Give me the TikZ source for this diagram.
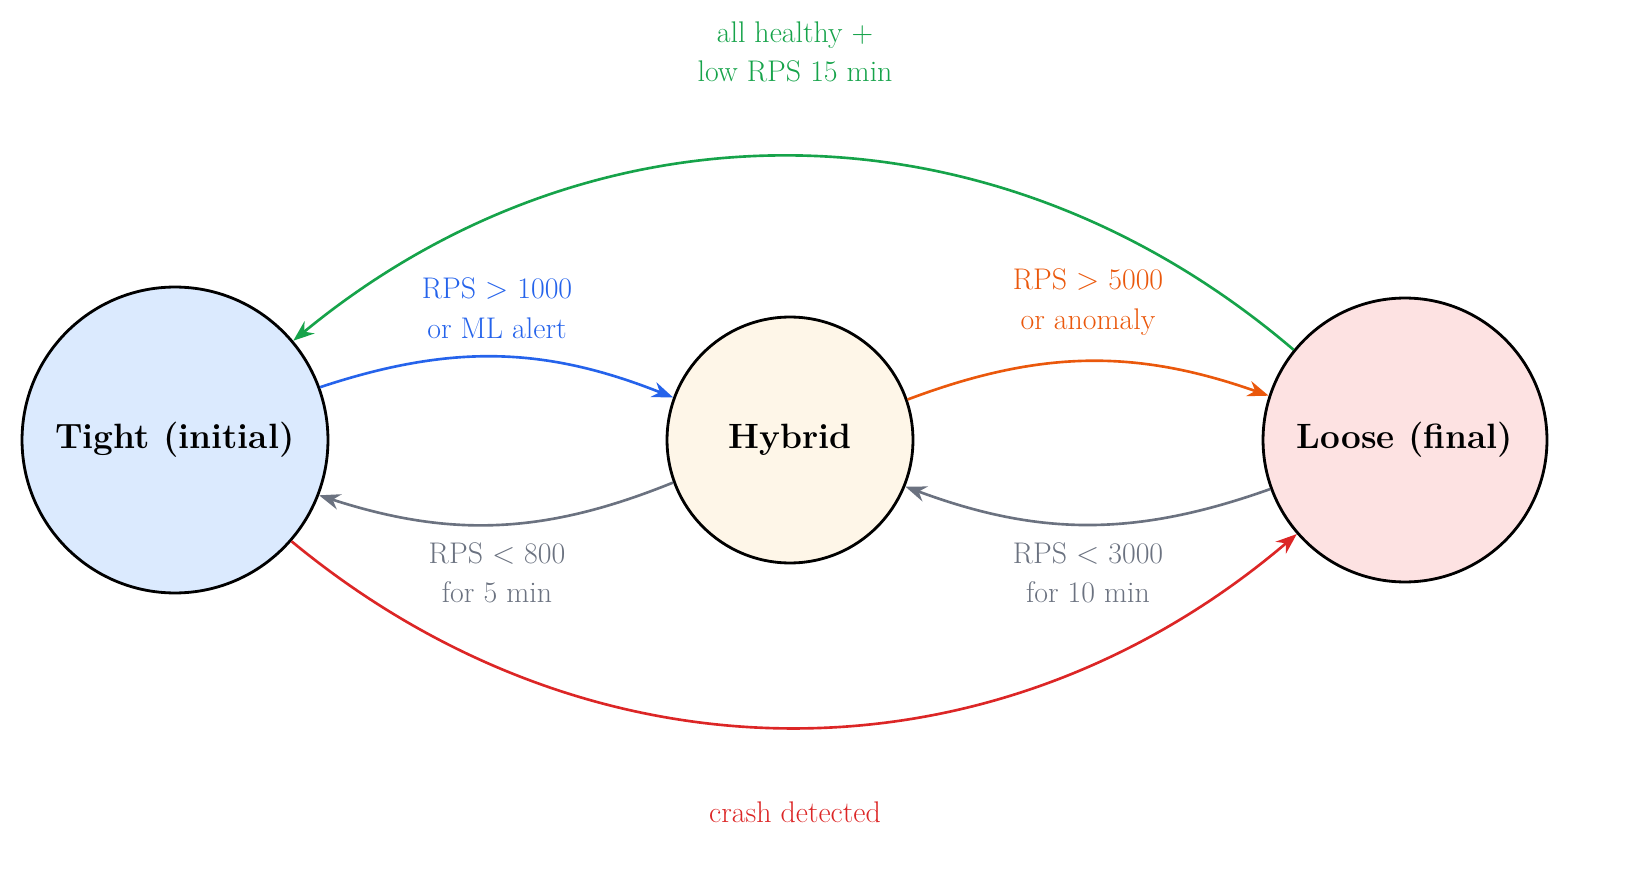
\documentclass[tikz,border=0pt]{standalone}
\usetikzlibrary{arrows.meta}
\definecolor{cblue}{HTML}{2563EB}
\definecolor{corange}{HTML}{EA580C}
\definecolor{cgray}{HTML}{6B7280}
\definecolor{cgreen}{HTML}{16A34A}
\definecolor{cred}{HTML}{DC2626}
\definecolor{ftight}{HTML}{DBEAFE}
\definecolor{fhybrid}{HTML}{FEF6E8}
\definecolor{floose}{HTML}{FDE2E2}
\begin{document}
\begin{tikzpicture}[x=0.02cm,y=-0.02cm,
  state/.style={circle,draw=black,line width=1.6pt,inner sep=0pt,font=\fontsize{20}{24}\selectfont\bfseries},
  edge/.style={line width=1.5pt,-{Stealth[length=12pt,width=9pt]}},
  lbl/.style={align=center,font=\fontsize{17}{22.5}\selectfont}]
\useasboundingbox (0,0) rectangle (1625,874);
\node[state,fill=ftight,minimum size=6.12cm] (T) at (175,440) {Tight (initial)};
\node[state,fill=fhybrid,minimum size=4.92cm] (H) at (790,440) {Hybrid};
\node[state,fill=floose,minimum size=5.68cm] (L) at (1405,440) {Loose (final)};
\draw[edge,cblue] (T.20) to[bend left=20] (H.160);
\draw[edge,cgray] (H.200) to[bend left=20] (T.-21);
\draw[edge,corange] (H.19) to[bend left=20] (L.162);
\draw[edge,cgray] (L.200) to[bend left=20] (H.-22);
\draw[edge,cgreen] (L.141) to[bend right=40] (T.40);
\draw[edge,cred] (T.-41) to[bend right=40] (L.221);
\node[lbl,text=cblue] (l1) at (497,308) {RPS $>$ 1000\\or ML alert};
\node[lbl,text=corange] (l2) at (1088,302) {RPS $>$ 5000\\or anomaly};
\node[lbl,text=cgray] (l3) at (497,573) {RPS $<$ 800\\for 5 min};
\node[lbl,text=cgray] (l4) at (1088,573) {RPS $<$ 3000\\for 10 min};
\node[lbl,text=cgreen] (l5) at (795,52) {all healthy +\\low RPS 15 min};
\node[lbl,text=cred] (l6) at (795,812) {crash detected};
\end{tikzpicture}
\end{document}
